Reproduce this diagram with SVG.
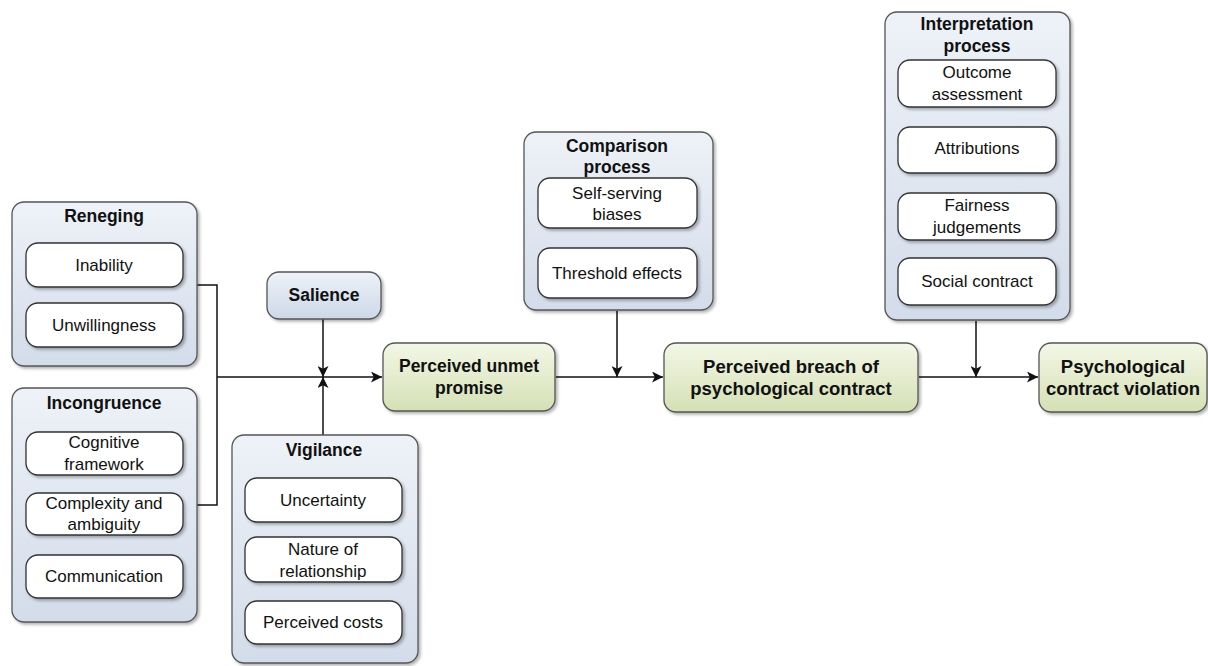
<svg xmlns="http://www.w3.org/2000/svg" width="1208" height="666" viewBox="0 0 1208 666">
  <style>
    .grp { fill: url(#blueGrad); stroke: #555; stroke-width: 1.3; filter: url(#shadow); }
    .item { fill: #fff; stroke: #333; stroke-width: 1.3; filter: url(#shadow); }
    .key { fill: url(#greenGrad); stroke: #555; stroke-width: 1.3; filter: url(#shadow); }
    .sal { fill: url(#salGrad); stroke: #555; stroke-width: 1.3; filter: url(#shadow); }
    text { font-family: "Liberation Sans", Arial, sans-serif; font-size: 17px; fill: #111; text-anchor: middle; dominant-baseline: central; }
    .title { font-weight: bold; font-size: 17.5px; }
    .big { font-weight: bold; font-size: 18.5px; }
    .conn { fill: none; stroke: #111; stroke-width: 1.5; }
  </style>
  <defs>
    <linearGradient id="blueGrad" x1="0" y1="0" x2="0" y2="1">
      <stop offset="0" stop-color="#eef2f8"/>
      <stop offset="1" stop-color="#d3dcea"/>
    </linearGradient>
    <linearGradient id="salGrad" x1="0" y1="0" x2="0" y2="1">
      <stop offset="0" stop-color="#eef2f8"/>
      <stop offset="1" stop-color="#cdd8e8"/>
    </linearGradient>
    <linearGradient id="greenGrad" x1="0" y1="0" x2="0" y2="1">
      <stop offset="0" stop-color="#f3f7e6"/>
      <stop offset="1" stop-color="#d5e0b5"/>
    </linearGradient>
    <filter id="shadow" x="-10%" y="-10%" width="125%" height="125%">
      <feDropShadow dx="2" dy="2" stdDeviation="1.5" flood-color="#000" flood-opacity="0.3"/>
    </filter>
    <marker id="arrow" viewBox="0 0 10 10" refX="10" refY="5" markerWidth="11" markerHeight="11" markerUnits="userSpaceOnUse" orient="auto">
      <path d="M0,0 L10,5 L0,10 L2.5,5 Z" fill="#111"/>
    </marker>
  </defs>

  <!-- connectors -->
  <g id="connectors">
    <path class="conn" d="M184,285 H217 V505 H184"/>
    <path class="conn" d="M217,377 H382" marker-end="url(#arrow)"/>
    <path class="conn" d="M323,319 V377" marker-end="url(#arrow)"/>
    <path class="conn" d="M323,435 V377" marker-end="url(#arrow)"/>
    <path class="conn" d="M556,377 H663" marker-end="url(#arrow)"/>
    <path class="conn" d="M617,311 V377" marker-end="url(#arrow)"/>
    <path class="conn" d="M919,377 H1038" marker-end="url(#arrow)"/>
    <path class="conn" d="M976,321 V377" marker-end="url(#arrow)"/>
  </g>

  <!-- Reneging -->
  <g id="reneging">
    <rect class="grp" x="12" y="202" width="185" height="164" rx="12"/>
    <text class="title" x="104" y="216">Reneging</text>
    <rect class="item" x="26" y="243" width="157" height="44" rx="12"/>
    <text x="104" y="265">Inability</text>
    <rect class="item" x="26" y="303" width="157" height="44" rx="12"/>
    <text x="104" y="325">Unwillingness</text>
  </g>

  <!-- Incongruence -->
  <g id="incongruence">
    <rect class="grp" x="12" y="388" width="185" height="234" rx="12"/>
    <text class="title" x="104" y="403">Incongruence</text>
    <rect class="item" x="26" y="432" width="157" height="43" rx="12"/>
    <text x="104" y="442">Cognitive</text>
    <text x="104" y="464">framework</text>
    <rect class="item" x="26" y="493" width="157" height="42" rx="12"/>
    <text x="104" y="503">Complexity and</text>
    <text x="104" y="524">ambiguity</text>
    <rect class="item" x="26" y="555" width="157" height="43" rx="12"/>
    <text x="104" y="576">Communication</text>
  </g>

  <!-- Salience -->
  <g id="salience">
    <rect class="sal" x="267" y="272" width="114" height="47" rx="12"/>
    <text class="title" x="324" y="295">Salience</text>
  </g>

  <!-- Vigilance -->
  <g id="vigilance">
    <rect class="grp" x="232" y="435" width="186" height="228" rx="12"/>
    <text class="title" x="324" y="450">Vigilance</text>
    <rect class="item" x="245" y="478" width="157" height="44" rx="12"/>
    <text x="323" y="500">Uncertainty</text>
    <rect class="item" x="245" y="537" width="157" height="45" rx="12"/>
    <text x="323" y="549">Nature of</text>
    <text x="323" y="571">relationship</text>
    <rect class="item" x="245" y="601" width="157" height="43" rx="12"/>
    <text x="323" y="622">Perceived costs</text>
  </g>

  <!-- Perceived unmet promise -->
  <g id="unmet-promise">
    <rect class="key" x="383" y="343" width="172" height="68" rx="12"/>
    <text class="title" x="469" y="366">Perceived unmet</text>
    <text class="title" x="469" y="388">promise</text>
  </g>

  <!-- Comparison process -->
  <g id="comparison">
    <rect class="grp" x="524" y="132" width="189" height="178" rx="12"/>
    <text class="title" x="617" y="146">Comparison</text>
    <text class="title" x="617" y="167">process</text>
    <rect class="item" x="538" y="178" width="159" height="50" rx="12"/>
    <text x="617" y="193">Self-serving</text>
    <text x="617" y="214">biases</text>
    <rect class="item" x="538" y="248" width="159" height="50" rx="12"/>
    <text x="617" y="273">Threshold effects</text>
  </g>

  <!-- Perceived breach -->
  <g id="breach">
    <rect class="key" x="664" y="343" width="254" height="69" rx="12"/>
    <text class="big" x="791" y="366">Perceived breach of</text>
    <text class="big" x="791" y="388">psychological contract</text>
  </g>

  <!-- Interpretation process -->
  <g id="interpretation">
    <rect class="grp" x="885" y="12" width="185" height="308" rx="12"/>
    <text class="title" x="977" y="24">Interpretation</text>
    <text class="title" x="977" y="46">process</text>
    <rect class="item" x="898" y="60" width="158" height="47" rx="12"/>
    <text x="977" y="72">Outcome</text>
    <text x="977" y="94">assessment</text>
    <rect class="item" x="898" y="127" width="158" height="46" rx="12"/>
    <text x="977" y="148">Attributions</text>
    <rect class="item" x="898" y="193" width="158" height="47" rx="12"/>
    <text x="977" y="205">Fairness</text>
    <text x="977" y="227">judgements</text>
    <rect class="item" x="898" y="258" width="158" height="47" rx="12"/>
    <text x="977" y="281">Social contract</text>
  </g>

  <!-- Psychological contract violation -->
  <g id="violation">
    <rect class="key" x="1039" y="343" width="168" height="69" rx="12"/>
    <text class="big" x="1123" y="366">Psychological</text>
    <text class="big" x="1123" y="388">contract violation</text>
  </g>
</svg>
